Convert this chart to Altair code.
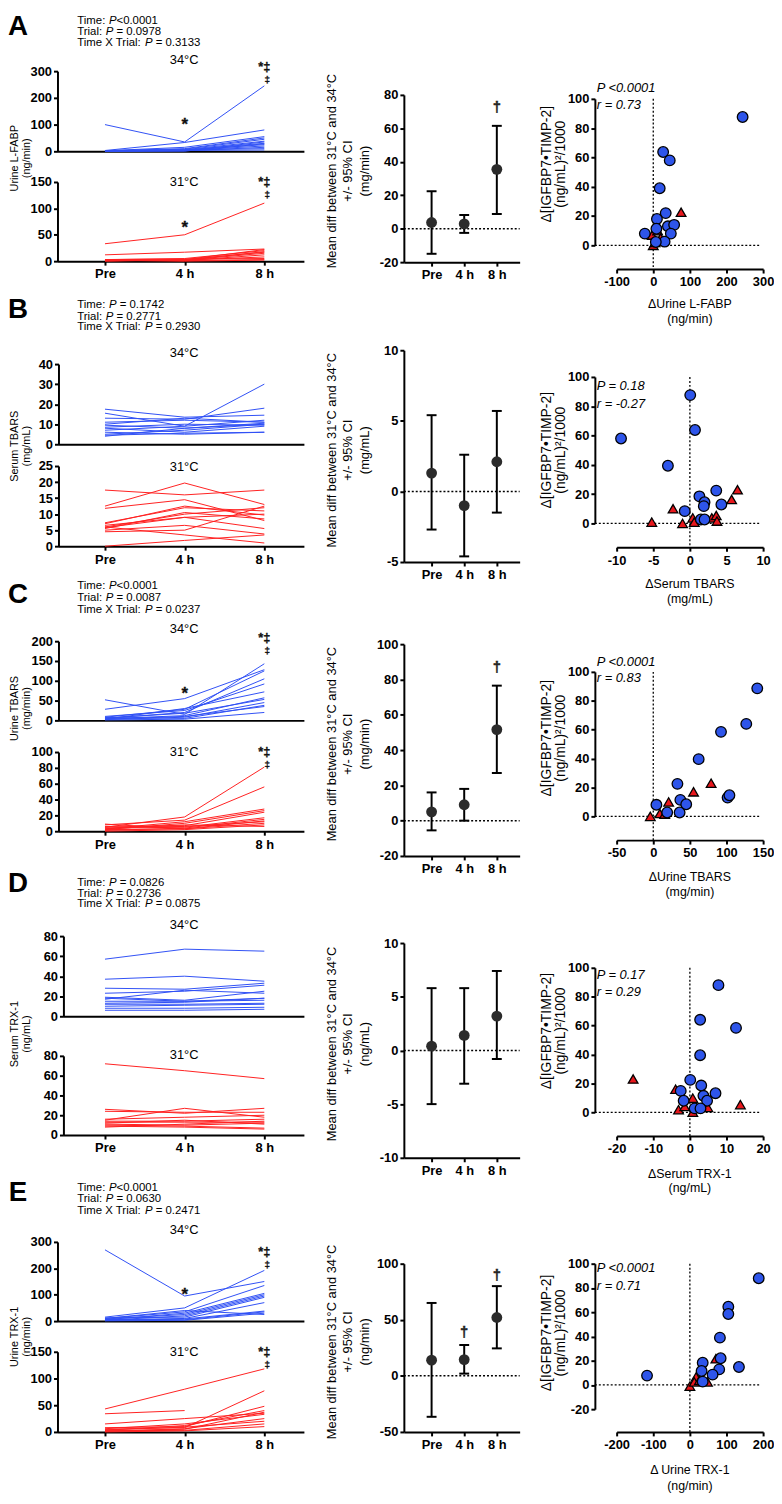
import altair as alt
import pandas as pd

FONT = "Liberation Sans"
W, H = 774, 1496
OFF = 8

BLUE_LINE = "#3050f5"
RED_LINE = "#ff2020"
BLUE_PT = "#2e55ea"
RED_PT = "#e8171c"
DOT = "#2b2b2b"

TIME_CODES = [0, 1, 2]
TIME_LABELS = ["Pre", "4 h", "8 h"]

# ---------------- Panel A : Urine L-FABP ----------------
A_34 = [[100, 35, 245], [3, 33, 80], [2, 15, 55], [2, 10, 50], [1, 8, 45], [2, 6, 38], [1, 5, 30],
        [3, 4, 25], [1, 3, 20], [2, 2, 15], [1, 5, 10], [2, 3, 5], [1, 2, 35], [0, 1, 28]]
A_31 = [[33, 50, 110], [12, 17, 23], [3, 5, 20], [2, 3, 17], [1, 2, 15], [2, 1, 12], [1, 2, 8],
        [3, 4, 5], [1, 1, 3], [2, 0, 2], [0, 3, 22], [1, 2, 18]]
A_DIFF = [3.7, 2.9, 35.5]
A_LO = [-15.0, -2.5, 8.8]
A_HI = [22.4, 8.2, 61.5]
A_BLUE_X = [244, 27, 45, 17.6, 34, 10, 8.6, 40, 57, -23, 48, 31, 7]
A_BLUE_Y = [87.6, 63.7, 58, 39, 22, 18, 11.3, 13, 14, 8, 8, 2.5, 2.3]
A_RED_X = [76, 0, -3, 5, 12, 20]
A_RED_Y = [22.6, 0, 7, 2, 10, 5]
A_STATS = [("Time: ", "P", "<0.0001"), ("Trial: ", "P", " = 0.0978"), ("Time X Trial: ", "P", " = 0.3133")]
A_CORR = ["P <0.0001", "r = 0.73"]

# ---------------- Panel B : Serum TBARS ----------------
B_34 = [[15.5, 9, 30], [17.5, 13.5, 14.5], [13, 12.5, 18], [11, 12, 11], [9.5, 8, 10], [8.5, 10, 9.5],
        [8, 6, 9], [7, 9, 12], [6, 5, 6], [5, 7, 10], [4.5, 5.5, 6], [4, 8, 10.5], [10, 13, 11]]
B_31 = [[17.5, 16, 17.5], [12.5, 19.7, 13], [11.8, 14.5, 8], [7.3, 12, 11], [7, 12.5, 9.7], [6, 10, 12],
        [5.8, 9, 10], [5.5, 10.5, 8.5], [4.5, 5, 12.5], [6, 3.5, 1], [0, 1.8, 3.5], [6.5, 9, 5.5], [5, 6.5, 3.8]]
B_DIFF = [1.3, -1.0, 2.1]
B_LO = [-2.7, -4.6, -1.5]
B_HI = [5.4, 2.6, 5.7]
B_BLUE_X = [0.05, 0.7, -9.4, -3, 3.6, 1.3, 2, 1.9, 4.3, -0.7, 1.5, 2]
B_BLUE_Y = [87.6, 63.8, 58, 39.4, 22.4, 18.5, 14.5, 11.8, 12.9, 8.4, 2.7, 2.7]
B_RED_X = [6.5, 5.7, -2.3, -5.2, -1, 0.4, 0.6, 3, 3.6, 3.7]
B_RED_Y = [23, 16.3, 10, 0.9, 0, 3.8, 0.9, 3.8, 5.4, 1.6]
B_STATS = [("Time: ", "P", " = 0.1742"), ("Trial: ", "P", " = 0.2771"), ("Time X Trial: ", "P", " = 0.2930")]
B_CORR = ["P = 0.18", "r = -0.27"]

# ---------------- Panel C : Urine TBARS ----------------
C_34 = [[28, 55, 128], [52, 15, 143], [8, 28, 125], [5, 20, 105], [10, 25, 92], [3, 30, 72], [4, 12, 57],
        [6, 18, 53], [2, 8, 45], [7, 5, 38], [3, 10, 35], [1, 3, 20]]
C_31 = [[5, 18, 81], [8, 14, 56], [3, 12, 28], [2, 10, 26], [6, 7, 24], [4, 5, 17], [1, 4, 15],
        [2, 3, 13], [9, 3, 10], [0, 2, 8], [5, 6, 12], [3, 8, 6]]
C_DIFF = [5, 9, 51.6]
C_LO = [-5.5, 0, 27]
C_HI = [16, 18, 76.5]
C_BLUE_X = [142, 127, 92.5, 62, 33, 37, 45, 4.3, 36, 19, 101.5, 104]
C_BLUE_Y = [88.6, 64, 58.5, 39.6, 22.5, 11.4, 8.4, 8, 2.7, 2.7, 13, 14.6]
C_RED_X = [79, 55, 21, 9, -4, 15.6]
C_RED_Y = [23, 17, 10, 2, 0, 1.6]
C_STATS = [("Time: ", "P", "<0.0001"), ("Trial: ", "P", " = 0.0087"), ("Time X Trial: ", "P", " = 0.0237")]
C_CORR = ["P <0.0001", "r = 0.83"]

# ---------------- Panel D : Serum TRX-1 ----------------
D_34 = [[57, 67, 65], [37, 40, 35], [28, 27, 33], [23, 25, 31], [19, 16, 25], [18, 15, 18], [15, 15, 16],
        [13, 14, 18], [12, 12, 13], [10, 11, 12], [8, 8, 9], [6, 6, 7], [17, 26, 23]]
D_31 = [[72, 65, 57], [26, 22, 27], [24, 23, 23], [15, 27, 18], [14, 14, 16], [13, 13, 13], [12, 15, 11],
        [11, 10, 12], [10, 9, 7], [9, 8, 6], [8, 11, 14], [16, 18, 20]]
D_DIFF = [0.4, 1.4, 3.2]
D_LO = [-5.0, -3.1, -0.8]
D_HI = [5.8, 5.8, 7.4]
D_BLUE_X = [7.8, 2.8, 12.6, 2.8, 0.1, 3.1, -2.5, 7, 3.7, 4.7, -1.7, 1.3, 2.9]
D_BLUE_Y = [88, 64, 58.4, 39.5, 22.4, 18.5, 14.8, 13.2, 11.4, 8, 8, 2.7, 2.7]
D_RED_X = [-15.5, 13.8, -3.9, 0.8, -3.1, -1.4, 0.8, 4.9]
D_RED_Y = [23, 5.3, 16, 9.8, 1.8, 4, 0, 3.4]
D_STATS = [("Time: ", "P", " = 0.0826"), ("Trial: ", "P", " = 0.2736"), ("Time X Trial: ", "P", " = 0.0875")]
D_CORR = ["P = 0.17", "r = 0.29"]

# ---------------- Panel E : Urine TRX-1 ----------------
E_34 = [[270, 95, 150], [15, 50, 192], [10, 35, 135], [5, 30, 105], [8, 25, 100], [3, 20, 95], [12, 15, 90],
        [5, 10, 70], [2, 8, 38], [6, 5, 35], [1, 3, 30], [10, 40, 25]]
E_31 = [[43, 80, 118], [34, 40, None], [15, 25, 35], [5, 8, 77], [8, 10, 48], [3, 12, 40], [2, 5, 37],
        [6, 15, 33], [1, 6, 25], [4, 9, 20], [2, 3, 15], [0, 2, 10]]
E_DIFF = [14, 14.5, 52]
E_LO = [-36.5, 2, 24.5]
E_HI = [65, 27.5, 80]
E_BLUE_X = [188, 105, 105, 82, 84, 35, 32, 80, 134, 62, -117, 35]
E_BLUE_Y = [88, 64.5, 58.5, 39, 22, 18.3, 11.5, 12.8, 14.8, 8.5, 7.7, 2.7]
E_RED_X = [71, 0, 17, 48, 12, 26]
E_RED_Y = [21.6, -1, 6.6, 2.5, 2.5, 3.8]
E_STATS = [("Time: ", "P", "<0.0001"), ("Trial: ", "P", " = 0.0630"), ("Time X Trial: ", "P", " = 0.2471")]
E_CORR = ["P <0.0001", "r = 0.71"]

MID_TITLE = ["Mean diff between 31\u00b0C and 34\u00b0C", "+/- 95% CI"]
SC_YTITLE = ["\u0394[IGFBP7\u2022TIMP-2]", "(ng/mL)\u00b2/1000"]

XLAB = "[" + ", ".join("'%s'" % s for s in TIME_LABELS) + "][datum.value]"
NUM = "'' + datum.value"

# ---------------- layout helpers ----------------
PRE_X, STEP_X, LEFT_END = 106, 80.5, 307
MID_X0, MID_X1 = 408, 525
SC_X0, SC_X1, SC_YAX = 623, 771, 601
STAT_X = 78
STAT_SIZE = 11.5

AW = {'T': .611, 'i': .222, 'm': .833, 'e': .556, ':': .278, ' ': .278, 'r': .333,
      'a': .556, 'l': .222, 'X': .667, 'P': .667}


def tw(s, size):
    return sum(AW[c] for c in s) * size


def P(v):
    return v - OFF


layers = []
TXT = {k: [] for k in ["letter", "stat", "stat_i", "temp", "ylab", "mid", "sy", "sx", "pr"]}


def axis(orient, offset, values, show=True, expr=NUM):
    kw = dict(orient=orient, offset=offset, values=values, title=None, grid=False,
              labelFlush=False, labelOverlap=False)
    if show:
        kw["labelExpr"] = expr
    else:
        kw.update(labels=False, ticks=False)
    return alt.Axis(**kw)


def lin(domain, rng):
    return alt.Scale(domain=domain, range=[P(rng[0]), P(rng[1])], nice=False, zero=False)


def text_layer(items, size, weight="normal", style="normal", align="center",
               baseline="middle", angle=None, color="black"):
    df = pd.DataFrame([(P(x), P(y), s) for x, y, s in items], columns=["px", "py", "label"])
    kw = dict(font=FONT, fontSize=size, fontWeight=weight, fontStyle=style, align=align,
              baseline=baseline, color=color)
    if angle is not None:
        kw["angle"] = angle
    return alt.Chart(df).mark_text(**kw).encode(
        x=alt.X("px:Q", scale=None, axis=None),
        y=alt.Y("py:Q", scale=None, axis=None),
        text="label:N")


def left_panel(rows, color, x0, y_top, y_bot, ymax, step, show_x, stars, stardag, dag2):
    df = pd.DataFrame([{"s": i, "t": t, "v": v} for i, row in enumerate(rows)
                       for t, v in zip(TIME_CODES, row)])
    xs = lin([(x0 - PRE_X) / STEP_X, (LEFT_END - PRE_X) / STEP_X], [x0, LEFT_END])
    ys = lin([0, ymax], [y_bot, y_top])
    layers.append(alt.Chart(df).mark_line(color=color, strokeWidth=1).encode(
        x=alt.X("t:Q", scale=xs, axis=axis("bottom", P(y_bot) - H, TIME_CODES, show_x, XLAB)),
        y=alt.Y("v:Q", scale=ys, axis=axis("left", -P(x0), list(range(0, ymax + 1, step)))),
        detail="s:N"))
    for items, dx, dy, fs in ((stars, 0, 5, 17), (stardag, 0, 0, 13), (dag2, 3, 13, 10)):
        if items:
            mdf = pd.DataFrame(items, columns=["t", "v", "label"])
            layers.append(alt.Chart(mdf).mark_text(font=FONT, fontSize=fs, fontWeight="bold",
                                                   color="#111", stroke="#111", strokeWidth=0.3,
                                                   dx=dx, dy=dy, baseline="middle").encode(
                x=alt.X("t:Q", scale=xs, axis=None),
                y=alt.Y("v:Q", scale=ys, axis=None),
                text="label:N"))


def mid_panel(mean, lo, hi, y_top, y_bot, ymin, ymax, step, daggers):
    xs = lin([-0.85, 2.7], [MID_X0, MID_X1])
    ys = lin([ymin, ymax], [y_bot, y_top])
    df = pd.DataFrame({"t": TIME_CODES, "m": mean, "lo": lo, "hi": hi})
    zero = pd.DataFrame({"a": [-0.85], "b": [2.7], "z": [0]})
    layers.append(alt.Chart(zero).mark_rule(color="black", strokeWidth=1.5, strokeDash=[2, 2]).encode(
        x=alt.X("a:Q", scale=xs, axis=axis("bottom", P(y_bot) - H, TIME_CODES, True, XLAB)),
        x2="b:Q",
        y=alt.Y("z:Q", scale=ys, axis=axis("left", -P(MID_X0), list(range(ymin, ymax + 1, step))))))
    X = alt.X("t:Q", scale=xs, axis=None)
    layers.append(alt.Chart(df).mark_rule(color="black", strokeWidth=2).encode(
        x=X, y=alt.Y("lo:Q", scale=ys, axis=None), y2="hi:Q"))
    for f in ("lo", "hi"):
        layers.append(alt.Chart(df).mark_tick(color="black", orient="horizontal", size=10,
                                              thickness=2, opacity=1).encode(
            x=X, y=alt.Y(f + ":Q", scale=ys, axis=None)))
    layers.append(alt.Chart(df).mark_circle(color=DOT, size=120, opacity=1).encode(
        x=X, y=alt.Y("m:Q", scale=ys, axis=None)))
    if daggers:
        ddf = pd.DataFrame(daggers, columns=["t", "v"])
        ddf["label"] = "\u2020"
        layers.append(alt.Chart(ddf).mark_text(font=FONT, fontSize=15, fontWeight="bold",
                                               color="#222", stroke="#222", strokeWidth=0.4,
                                               baseline="middle").encode(
            x=X, y=alt.Y("v:Q", scale=ys, axis=None), text="label:N"))


def scatter(bx, by, rx, ry, xdom, xticks, ydom, yticks, y_top, y_bot, x_axis_y):
    xs = lin(xdom, [SC_X0, SC_X1])
    ys = lin(ydom, [y_bot, y_top])
    xppu = (SC_X1 - SC_X0) / (xdom[1] - xdom[0])
    yppu = (y_bot - y_top) / (ydom[1] - ydom[0])
    hl = pd.DataFrame({"a": [xdom[0] - (SC_X0 - SC_YAX) / xppu], "b": [xdom[1] - 3 / xppu], "z": [0]})
    vl = pd.DataFrame({"z": [0], "a": [ydom[1]], "b": [ydom[0] - (x_axis_y - y_bot) / yppu]})
    dots = dict(color="black", strokeWidth=1.3, strokeDash=[2, 2])
    layers.append(alt.Chart(hl).mark_rule(**dots).encode(
        x=alt.X("a:Q", scale=xs, axis=axis("bottom", P(x_axis_y) - H, xticks)),
        x2="b:Q",
        y=alt.Y("z:Q", scale=ys, axis=axis("left", -P(SC_YAX), yticks))))
    layers.append(alt.Chart(vl).mark_rule(**dots).encode(
        x=alt.X("z:Q", scale=xs, axis=None),
        y=alt.Y("a:Q", scale=ys, axis=None), y2="b:Q"))
    red = pd.DataFrame({"x": rx, "y": ry})
    blue = pd.DataFrame({"x": bx, "y": by})
    layers.append(alt.Chart(red).mark_point(shape="triangle-up", filled=True, fill=RED_PT,
                                            stroke="black", strokeWidth=1.3, size=95,
                                            opacity=1).encode(
        x=alt.X("x:Q", scale=xs, axis=None), y=alt.Y("y:Q", scale=ys, axis=None)))
    layers.append(alt.Chart(blue).mark_point(shape="circle", filled=True, fill=BLUE_PT,
                                             stroke="black", strokeWidth=1.3, size=115,
                                             opacity=1).encode(
        x=alt.X("x:Q", scale=xs, axis=None), y=alt.Y("y:Q", scale=ys, axis=None)))


ROWS = [
    dict(letter="A", letter_y=19, stats=A_STATS, stats_y=[13, 24.5, 36],
         ylab=["Urine L-FABP", "(ng/min)"], ylab_y=152, x0=58,
         top=(A_34, 64, 145, 300, 100), bot=(A_31, 176, 256, 150, 50), t34=53, t31=176,
         top_marks=([(1, 115, "*")], [(2, 315, "*\u2021")], [(2, 315, "\u2021")]),
         bot_marks=([(1, 73, "*")], [(2, 150, "*\u2021")], [(2, 150, "\u2021")]),
         mid=(A_DIFF, A_LO, A_HI, 88, 257, -20, 80, 20, [(2, 73)]), mid_ty=165, unit="(mg/min)",
         sc=(A_BLUE_X, A_BLUE_Y, A_RED_X, A_RED_Y, [-100, 300], [-100, 0, 100, 200, 300],
             [0, 100], [0, 20, 40, 60, 80, 100], 92, 240, 264),
         sy=158, sx_y=(299, 314), sx=["\u0394Urine L-FABP", "(ng/min)"], corr=A_CORR, corr_y=(81, 98)),
    dict(letter="B", letter_y=305, stats=B_STATS, stats_y=[300, 312, 323],
         ylab=["Serum TBARS", "(mg/mL)"], ylab_y=443, x0=59,
         top=(B_34, 360, 441, 40, 10), bot=(B_31, 463, 544, 25, 5), t34=349, t31=464,
         top_marks=([], [], []), bot_marks=([], [], []),
         mid=(B_DIFF, B_LO, B_HI, 346, 560, -5, 10, 5, []), mid_ty=447, unit="(mg/mL)",
         sc=(B_BLUE_X, B_BLUE_Y, B_RED_X, B_RED_Y, [-10, 10], [-10, -5, 0, 5, 10],
             [0, 100], [0, 20, 40, 60, 80, 100], 373, 521, 545),
         sy=447, sx_y=(582, 597), sx=["\u0394Serum TBARS", "(mg/mL)"], corr=B_CORR, corr_y=(382, 400)),
    dict(letter="C", letter_y=593, stats=C_STATS, stats_y=[584, 596, 609],
         ylab=["Urine TBARS", "(mg/min)"], ylab_y=708, x0=59,
         top=(C_34, 640, 720, 200, 50), bot=(C_31, 752, 832, 100, 20), t34=628, t31=752,
         top_marks=([(1, 80, "*")], [(2, 207.5, "*\u2021")], [(2, 207.5, "\u2021")]),
         bot_marks=([], [(2, 100, "*\u2021")], [(2, 100, "\u2021")]),
         mid=(C_DIFF, C_LO, C_HI, 643, 857, -20, 100, 20, [(2, 87)]), mid_ty=744, unit="(mg/min)",
         sc=(C_BLUE_X, C_BLUE_Y, C_RED_X, C_RED_Y, [-50, 150], [-50, 0, 50, 100, 150],
             [0, 100], [0, 20, 40, 60, 80, 100], 671, 817, 841),
         sy=738, sx_y=(878, 893), sx=["\u0394Urine TBARS", "(mg/min)"], corr=C_CORR, corr_y=(661, 677)),
    dict(letter="D", letter_y=885, stats=D_STATS, stats_y=[884, 895, 906],
         ylab=["Serum TRX-1", "(ng/mL)"], ylab_y=1037, x0=64,
         top=(D_34, 938, 1019, 80, 20), bot=(D_31, 1059, 1139, 80, 20), t34=927, t31=1058,
         top_marks=([], [], []), bot_marks=([], [], []),
         mid=(D_DIFF, D_LO, D_HI, 945, 1162, -10, 10, 5, []), mid_ty=1047, unit="(ng/mL)",
         sc=(D_BLUE_X, D_BLUE_Y, D_RED_X, D_RED_Y, [-20, 20], [-20, -10, 0, 10, 20],
             [0, 100], [0, 20, 40, 60, 80, 100], 970, 1116, 1140),
         sy=1034, sx_y=(1178, 1193), sx=["\u0394Serum TRX-1", "(ng/mL)"], corr=D_CORR, corr_y=(977, 995)),
    dict(letter="E", letter_y=1198, stats=E_STATS, stats_y=[1193, 1204, 1216],
         ylab=["Urine TRX-1", "(ng/min)"], ylab_y=1343, x0=58,
         top=(E_34, 1247, 1327, 300, 100), bot=(E_31, 1358, 1439, 150, 50), t34=1235, t31=1358,
         top_marks=([(1, 116, "*")], [(2, 262, "*\u2021")], [(2, 262, "\u2021")]),
         bot_marks=([], [(2, 150, "*\u2021")], [(2, 150, "\u2021")]),
         mid=(E_DIFF, E_LO, E_HI, 1269, 1439, -50, 100, 50, [(1, 39), (2, 90)]), mid_ty=1348,
         unit="(ng/min)",
         sc=(E_BLUE_X, E_BLUE_Y, E_RED_X, E_RED_Y, [-200, 200], [-200, -100, 0, 100, 200],
             [-20, 100], [-20, 0, 20, 40, 60, 80, 100], 1269, 1416, 1439),
         sy=1339, sx_y=(1477, 1494), sx=["\u0394 Urine TRX-1", "(ng/min)"], corr=E_CORR,
         corr_y=(1273, 1292)),
]

for R in ROWS:
    data, yt, yb, ymax, step = R["top"]
    left_panel(data, BLUE_LINE, R["x0"], yt, yb, ymax, step, False, *R["top_marks"])
    data, yt2, yb2, ymax, step = R["bot"]
    left_panel(data, RED_LINE, R["x0"], yt2, yb2, ymax, step, True, *R["bot_marks"])
    mid_panel(*R["mid"])
    scatter(*R["sc"])

    TXT["letter"].append((18, R["letter_y"], R["letter"]))
    for (pre, p, post), y in zip(R["stats"], R["stats_y"]):
        px = STAT_X + tw(pre, STAT_SIZE)
        TXT["stat"].append((STAT_X, y, pre.strip()))
        TXT["stat_i"].append((px, y, p))
        sx = px + tw("P", STAT_SIZE)
        if post.startswith(" "):
            sx += tw(" ", STAT_SIZE)
        TXT["stat"].append((sx, y, post.strip()))
    TXT["temp"].append((186, R["t34"], "34\u00b0C"))
    TXT["temp"].append((186, R["t31"], "31\u00b0C"))
    TXT["ylab"].append((15, R["ylab_y"], R["ylab"][0]))
    TXT["ylab"].append((27, R["ylab_y"], R["ylab"][1]))
    for xx, line in zip((335, 352, 369), MID_TITLE + [R["unit"]]):
        TXT["mid"].append((xx, R["mid_ty"], line))
    TXT["sy"].append((553, R["sy"], SC_YTITLE[0]))
    TXT["sy"].append((567, R["sy"], SC_YTITLE[1]))
    TXT["sx"].append(((SC_X0 + SC_X1) / 2, R["sx_y"][0], R["sx"][0]))
    TXT["sx"].append(((SC_X0 + SC_X1) / 2, R["sx_y"][1], R["sx"][1]))
    TXT["pr"].append((603, R["corr_y"][0], R["corr"][0]))
    TXT["pr"].append((603, R["corr_y"][1], R["corr"][1]))

layers.append(text_layer(TXT["letter"], 28, weight="bold"))
layers.append(text_layer(TXT["stat"], STAT_SIZE, align="left"))
layers.append(text_layer(TXT["stat_i"], STAT_SIZE, style="italic", align="left"))
layers.append(text_layer(TXT["temp"], 13))
layers.append(text_layer(TXT["ylab"], 11, angle=270))
layers.append(text_layer(TXT["mid"], 13, angle=270))
layers.append(text_layer(TXT["sy"], 14, angle=270))
layers.append(text_layer(TXT["sx"], 12.5))
layers.append(text_layer(TXT["pr"], 13, style="italic", align="left"))

chart = alt.layer(*layers).resolve_scale(x="independent", y="independent").properties(
    width=W, height=H, padding=0, autosize=alt.AutoSizeParams(type="none")
).configure_view(stroke=None).configure_axis(
    domainColor="black", domainWidth=2, tickColor="black", tickWidth=2, tickSize=4,
    labelColor="black", labelFont=FONT, labelFontSize=13, labelFontWeight="bold", grid=False
).configure_axisX(labelPadding=3).configure_axisY(labelPadding=2)

chart.save("out.html", embed_options={"renderer": "svg", "actions": False})
